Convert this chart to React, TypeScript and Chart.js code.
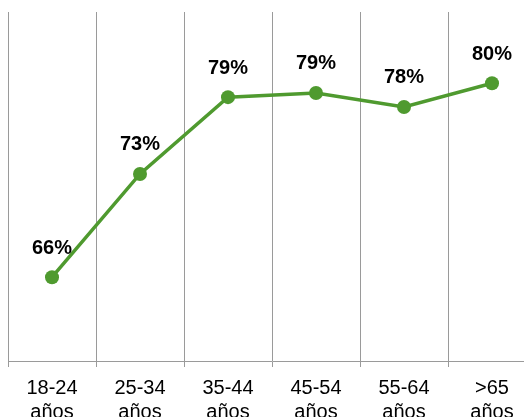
import React, { useEffect, useRef } from "react";
import { Chart, registerables } from "chart.js";

Chart.register(...registerables);

const categories: string[][] = [
  ["18-24", "años"],
  ["25-34", "años"],
  ["35-44", "años"],
  ["45-54", "años"],
  ["55-64", "años"],
  [">65", "años"],
];
const values: number[] = [66, 73.4, 78.9, 79.2, 78.2, 79.9];
const labels: string[] = ["66%", "73%", "79%", "79%", "78%", "80%"];

const GREEN = "#4f9a2f";
const GRID = "#9a9a9a";
const FONT = "'Liberation Sans', Arial, Helvetica, sans-serif";

const valueLabelPlugin = {
  id: "valueLabels",
  afterDatasetsDraw(chart: any) {
    const { ctx } = chart;
    const meta = chart.getDatasetMeta(0);
    ctx.save();
    ctx.font = `bold 20px ${FONT}`;
    ctx.fillStyle = "#000";
    ctx.textAlign = "center";
    ctx.textBaseline = "middle";
    meta.data.forEach((pt: any, i: number) => {
      ctx.fillText(labels[i], pt.x, pt.y - 29);
    });
    ctx.restore();
  },
};

export default function App() {
  const ref = useRef<HTMLCanvasElement | null>(null);
  useEffect(() => {
    if (!ref.current) return;
    const chart = new Chart(ref.current, {
      type: "line",
      data: {
        labels: categories,
        datasets: [
          {
            data: values,
            borderColor: GREEN,
            backgroundColor: GREEN,
            borderWidth: 3.5,
            pointRadius: 7,
            pointBackgroundColor: GREEN,
            pointBorderWidth: 0,
            tension: 0,
          },
        ],
      },
      options: {
        responsive: false,
        animation: false,
        devicePixelRatio: 1,
        layout: { padding: { left: 8, right: 4, top: 12, bottom: 0 } },
        plugins: { legend: { display: false }, tooltip: { enabled: false } },
        scales: {
          x: {
            offset: true,
            grid: {
              offset: true,
              color: GRID,
              lineWidth: 1,
              drawTicks: true,
              tickLength: 6,
            },
            border: { display: true, color: GRID, width: 1 },
            ticks: {
              color: "#000",
              font: { family: FONT, size: 20, lineHeight: 1.2 },
              padding: 9,
              maxRotation: 0,
              autoSkip: false,
            },
            afterFit: (scale: any) => {
              scale.height = 56;
            },
          },
          y: {
            display: false,
            min: 60,
            max: 85,
          },
        },
      },
      plugins: [valueLabelPlugin],
    });
    return () => chart.destroy();
  }, []);
  return (
    <div
      style={{
        position: "fixed",
        left: 0,
        top: 0,
        width: 524,
        height: 417,
        overflow: "hidden",
        background: "#fff",
      }}
    >
      <canvas ref={ref} width={543} height={417} style={{ display: "block" }} />
    </div>
  );
}
